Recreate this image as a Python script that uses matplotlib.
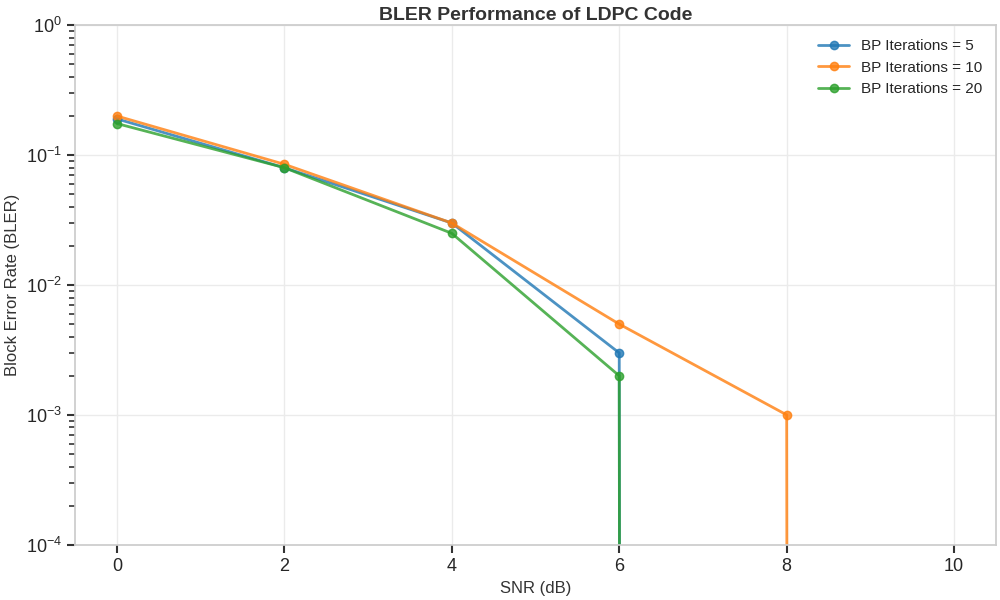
import numpy as np
import matplotlib
matplotlib.use("Agg")
import matplotlib.pyplot as plt
import seaborn as sns

snr = [0, 2, 4, 6, 8, 10]
bler_5 = [0.19, 0.08, 0.03, 0.003, 0.0, 0.0]
bler_10 = [0.20, 0.085, 0.03, 0.005, 0.001, 0.0]
bler_20 = [0.175, 0.08, 0.025, 0.002, 0.0, 0.0]
labels = ["BP Iterations = 5", "BP Iterations = 10", "BP Iterations = 20"]

sns.set_theme(style="whitegrid")
plt.rcParams['font.family'] = ['Liberation Sans', 'DejaVu Sans']
plt.rcParams['axes.edgecolor'] = '#cccccc'
plt.rcParams['axes.linewidth'] = 1.25
plt.rcParams['grid.color'] = '#ebebeb'

fig, ax = plt.subplots(figsize=(10, 6), dpi=100)
colors = ['#1f77b4', '#ff7f0e', '#2ca02c']
for vals, lab, c in zip([bler_5, bler_10, bler_20], labels, colors):
    ax.semilogy(snr, vals, marker='o', color=c, alpha=0.8, linewidth=2,
                markersize=6, label=lab)

ax.set_ylim(1e-4, 1)
ax.set_xlim(-0.5, 10.5)
ax.set_xticks([0, 2, 4, 6, 8, 10])
ax.tick_params(axis='both', which='major', direction='out', length=6, width=1.5,
               color='#333333', labelsize=13, left=True, bottom=True)
ax.tick_params(axis='y', which='minor', direction='out', length=4, width=1.2,
               color='#333333', left=True)
ax.grid(True, which='major', color='#ebebeb')
ax.grid(False, which='minor')
ax.set_xlabel("SNR (dB)", fontsize=12, color='#333333', labelpad=4)
ax.set_ylabel("Block Error Rate (BLER)", fontsize=12, color='#333333', labelpad=4)
ax.set_title("BLER Performance of LDPC Code", fontsize=14, fontweight='bold',
             color='#333333', pad=4)
leg = ax.legend(loc='upper right', fontsize=11, frameon=False)

fig.subplots_adjust(left=0.075, right=0.996, top=0.958, bottom=0.092)
fig.savefig("out.png", dpi=100)
